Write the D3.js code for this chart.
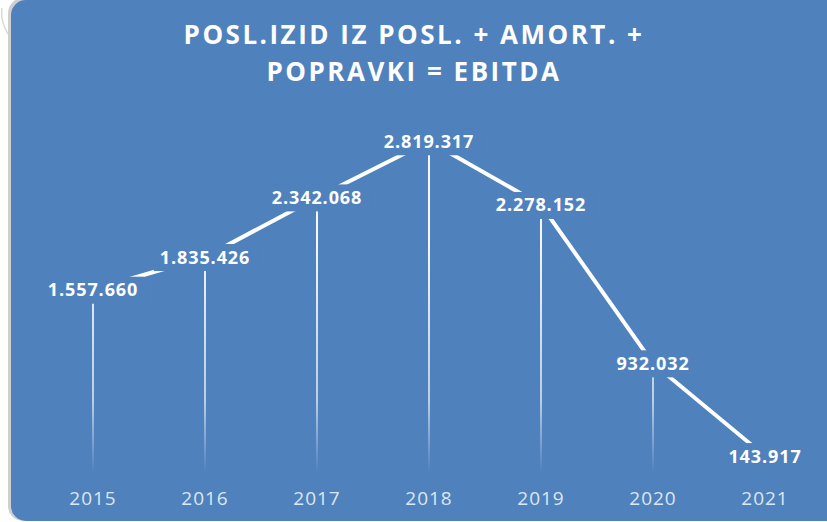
<!DOCTYPE html>
<html>
<head>
<meta charset="utf-8">
<script src="https://cdn.jsdelivr.net/npm/d3@7/dist/d3.min.js"></script>
<style>
  html, body { margin: 0; padding: 0; background: #ffffff; }
  svg { display: block; }
</style>
</head>
<body>
<svg id="chart" width="827" height="522"></svg>
<script>
// EBITDA by year
const years = ["2015", "2016", "2017", "2018", "2019", "2020", "2021"];
const ebitda = [1557660, 1835426, 2342068, 2819317, 2278152, 932032, 143917];
const valueLabels = ["1.557.660", "1.835.426", "2.342.068", "2.819.317", "2.278.152", "932.032", "143.917"];
const titleLines = ["POSL.IZID IZ POSL. + AMORT. +", "POPRAVKI = EBITDA"];

const W = 827, H = 522;
const panelColor = "#4f81bd";
const svg = d3.select("#chart");

// card frame with soft shadow on the left
const frame = svg.append("g");
frame.append("path")
  .attr("d", "M8,34 Q0,20 2,8")
  .attr("fill", "none").attr("stroke", "#d9d9d9").attr("stroke-width", 1.5);
frame.append("rect")
  .attr("x", 8).attr("y", -2).attr("width", 840).attr("height", 523)
  .attr("rx", 15).attr("fill", "#cfcfcf");
frame.append("rect")
  .attr("x", 11).attr("y", 0).attr("width", 840).attr("height", 521)
  .attr("rx", 15).attr("fill", panelColor);

// title
svg.append("g").selectAll("text").data(titleLines).join("text")
  .attr("x", 414)
  .attr("y", (d, i) => 44 + i * 37)
  .attr("text-anchor", "middle")
  .attr("font-family", "'Open Sans', sans-serif")
  .attr("font-weight", 700)
  .attr("font-size", 26)
  .attr("letter-spacing", 2.5)
  .attr("fill", "#ffffff")
  .text(d => d);

// scales
const x = d3.scaleBand().domain(years).range([37, 821]);
const y = d3.scaleLinear().domain([0, 3000000]).range([473, 120]);
const cx = d => x(d) + x.bandwidth() / 2;

// drop lines fading toward the baseline
const defs = svg.append("defs");
const grad = defs.append("linearGradient")
  .attr("id", "dropFade")
  .attr("gradientUnits", "userSpaceOnUse")
  .attr("x1", 0).attr("x2", 0)
  .attr("y1", y(2000000)).attr("y2", y(0));
grad.append("stop").attr("offset", "0%").attr("stop-color", "#ffffff").attr("stop-opacity", 0.95);
grad.append("stop").attr("offset", "70%").attr("stop-color", "#ffffff").attr("stop-opacity", 0.6);
grad.append("stop").attr("offset", "100%").attr("stop-color", "#ffffff").attr("stop-opacity", 0.0);

const data = years.map((yr, i) => ({ yr, v: ebitda[i], lbl: valueLabels[i] }));

svg.append("g").selectAll("line").data(data).join("line")
  .attr("x1", d => cx(d.yr)).attr("x2", d => cx(d.yr))
  .attr("y1", d => y(d.v)).attr("y2", y(0))
  .attr("stroke", "url(#dropFade)")
  .attr("stroke-width", 2);

// series line
const line = d3.line().x(d => cx(d.yr)).y(d => y(d.v));
svg.append("path")
  .datum(data)
  .attr("d", line)
  .attr("fill", "none")
  .attr("stroke", "#ffffff")
  .attr("stroke-width", 4)
  .attr("stroke-linejoin", "round");

// value labels on panel-coloured boxes
const lblG = svg.append("g").selectAll("g").data(data).join("g")
  .attr("transform", d => `translate(${cx(d.yr)},${y(d.v)})`);
lblG.append("text")
  .attr("text-anchor", "middle")
  .attr("y", 6.5)
  .attr("font-family", "'Open Sans', sans-serif")
  .attr("font-weight", 700)
  .attr("font-size", 18)
  .attr("letter-spacing", 0.9)
  .attr("fill", "#ffffff")
  .text(d => d.lbl);
lblG.each(function () {
  const g = d3.select(this);
  const bb = g.select("text").node().getBBox();
  g.insert("rect", "text")
    .attr("x", bb.x - 6).attr("y", -13)
    .attr("width", bb.width + 12).attr("height", 27)
    .attr("fill", panelColor);
});

// category axis labels
svg.append("g").selectAll("text").data(years).join("text")
  .attr("x", d => cx(d))
  .attr("y", 505)
  .attr("text-anchor", "middle")
  .attr("font-family", "'Open Sans', sans-serif")
  .attr("font-size", 19)
  .attr("letter-spacing", 1)
  .attr("fill", "#dce6f2")
  .text(d => d);
</script>
</body>
</html>
